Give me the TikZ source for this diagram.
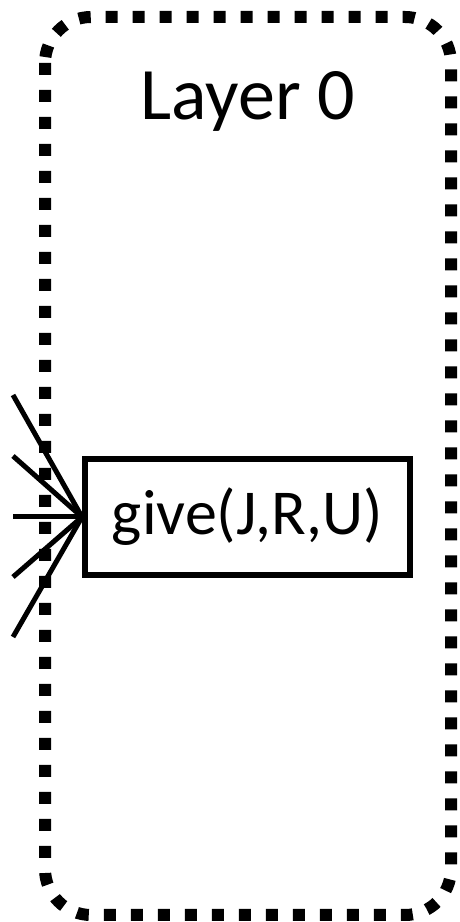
\documentclass[tikz,border=0pt]{standalone}
\usepackage{fontspec}
\setmainfont{Carlito}
\usepackage{tikz}
\usetikzlibrary{positioning}

\tikzset{
  inlink/.style={line width=5pt},
  predbox/.style={draw, line width=6pt, minimum width=325pt, minimum height=116pt, inner sep=0pt, font=\fontsize{64}{70}\selectfont}
}

\begin{document}
\begin{tikzpicture}[x=1pt, y=1pt]
\useasboundingbox (0,0) rectangle (459,922);

\draw[line width=12pt, dash pattern=on 12pt off 15pt, rounded corners=46pt] (45,905) rectangle (451,7);
\node[font=\fontsize{74}{80}\selectfont] (layer) at (248,821) {Layer 0};

\node[predbox] (give) at (247.5,405) {give(J,R,U)};

\foreach \yy [count=\i] in {527,466,405,345,285} {
  \coordinate (src\i) at (13,\yy);
  \draw[inlink] (src\i) -- (give.west);
}
\end{tikzpicture}
\end{document}
